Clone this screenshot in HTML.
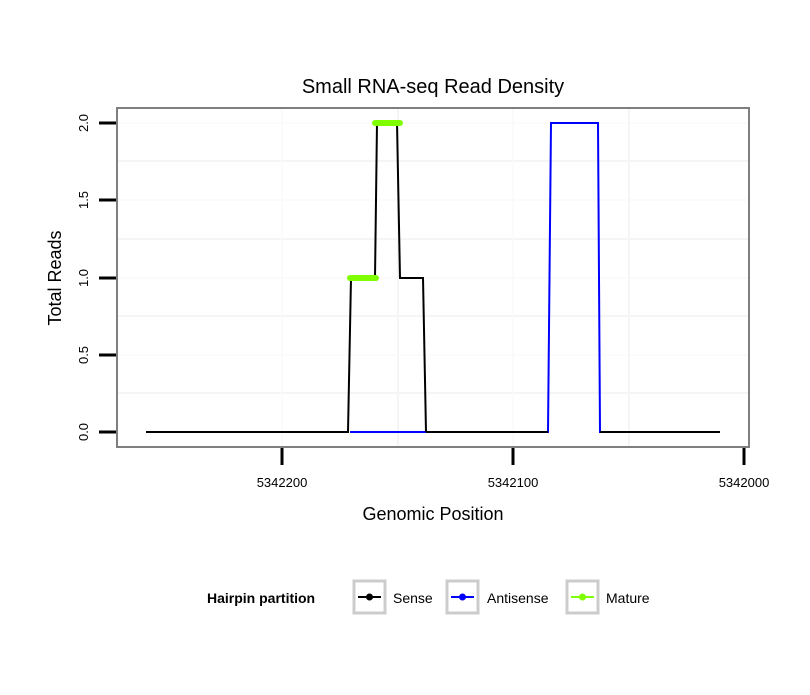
<!DOCTYPE html><html><head><style>body{margin:0;background:#fff}</style></head><body>
<svg width="810" height="690" xmlns="http://www.w3.org/2000/svg" font-family="Liberation Sans, sans-serif">
<rect width="810" height="690" fill="#fff"/>
<g stroke="#f5f5f5" stroke-width="2">
<line x1="118" x2="748" y1="161" y2="161"/><line x1="118" x2="748" y1="239" y2="239"/><line x1="118" x2="748" y1="316" y2="316"/><line x1="118" x2="748" y1="393" y2="393"/>
<line x1="398" x2="398" y1="109" y2="446"/><line x1="629" x2="629" y1="109" y2="446"/>
</g>
<g stroke="#fafafa" stroke-width="1.5">
<line x1="118" x2="748" y1="123" y2="123"/><line x1="118" x2="748" y1="200" y2="200"/><line x1="118" x2="748" y1="278" y2="278"/><line x1="118" x2="748" y1="355" y2="355"/>
<line x1="282" x2="282" y1="109" y2="446"/><line x1="513" x2="513" y1="109" y2="446"/>
</g>
<polyline fill="none" stroke="#0000ff" stroke-width="2" points="350,432 548,432 551,123 598,123 600,432 720,432"/>
<polyline fill="none" stroke="#000" stroke-width="2" points="146,432 348,432 351,278 375,278 377,123 397,123 400,278 423,278 426,432"/>
<polyline fill="none" stroke="#000" stroke-width="2" points="600,432 720,432"/>
<line x1="426" x2="548" y1="432" y2="432" stroke="#000" stroke-width="2"/>
<g stroke="#7fff00" stroke-width="6" stroke-linecap="round"><line x1="350" x2="376" y1="278" y2="278"/><line x1="375" x2="400" y1="123" y2="123"/></g>
<rect x="117" y="108" width="632" height="339" fill="none" stroke="#7f7f7f" stroke-width="2"/>
<g stroke="#000" stroke-width="3">
<line x1="99" x2="116" y1="432" y2="432"/><line x1="99" x2="116" y1="355" y2="355"/><line x1="99" x2="116" y1="278" y2="278"/><line x1="99" x2="116" y1="200" y2="200"/><line x1="99" x2="116" y1="123" y2="123"/>
<line x1="282" x2="282" y1="448" y2="465"/><line x1="513" x2="513" y1="448" y2="465"/><line x1="744" x2="744" y1="448" y2="465"/>
</g>
<g font-size="13" text-anchor="middle" fill="#000">
<text transform="translate(88,432) rotate(-90)">0.0</text>
<text transform="translate(88,355) rotate(-90)">0.5</text>
<text transform="translate(88,278) rotate(-90)">1.0</text>
<text transform="translate(88,200) rotate(-90)">1.5</text>
<text transform="translate(88,123) rotate(-90)">2.0</text>
<text x="282" y="487">5342200</text><text x="513" y="487">5342100</text><text x="744" y="487">5342000</text>
</g>
<text x="433" y="93" font-size="20" text-anchor="middle">Small RNA-seq Read Density</text>
<text x="433" y="520" font-size="18" text-anchor="middle">Genomic Position</text>
<text transform="translate(61,278) rotate(-90)" font-size="18" text-anchor="middle">Total Reads</text>
<text x="207" y="603" font-size="14" font-weight="bold">Hairpin partition</text>
<g stroke="#cccccc" stroke-width="3" fill="#fff">
<rect x="354" y="581" width="31" height="32"/><rect x="447" y="581" width="31" height="32"/><rect x="567" y="581" width="31" height="32"/></g>
<g stroke-width="2"><line x1="358" x2="381" y1="597" y2="597" stroke="#000"/><line x1="451" x2="474" y1="597" y2="597" stroke="#00f"/><line x1="571" x2="594" y1="597" y2="597" stroke="#7fff00"/></g>
<circle cx="369.5" cy="597" r="3.5" fill="#000"/><circle cx="462.5" cy="597" r="3.5" fill="#00f"/><circle cx="582.5" cy="597" r="3.5" fill="#7fff00"/>
<g font-size="14"><text x="393" y="603">Sense</text><text x="487" y="603">Antisense</text><text x="606" y="603">Mature</text></g>
</svg></body></html>
